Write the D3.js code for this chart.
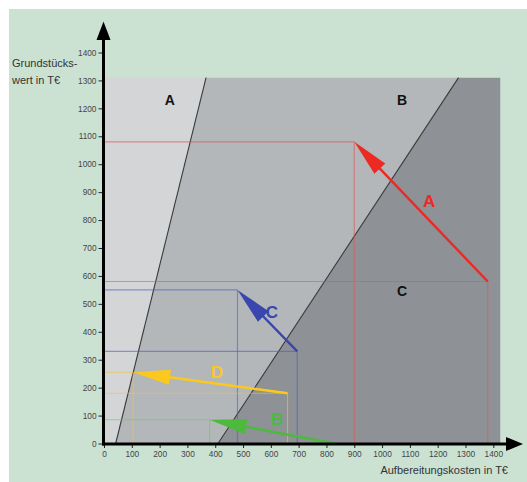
<!DOCTYPE html>
<html><head><meta charset="utf-8">
<script src="https://cdn.jsdelivr.net/npm/d3@7"></script>
<style>
html,body{margin:0;padding:0;background:#fff;}
svg{display:block;font-family:"Liberation Sans",Arial,sans-serif;}
</style></head>
<body>
<script>
// ---- data ----
const tickValues = [0,100,200,300,400,500,600,700,800,900,1000,1100,1200,1300,1400];
const yAxisTitle = ["Grundstücks-", "wert in T€"];
const xAxisTitle = "Aufbereitungskosten in T€";
const plotExtentX = 1425;
const plotExtentY = 1310;
// zone boundaries (x at y=0, x at top)
const boundaryBottomX = [42, 410];
const boundaryTopX = [367, 1275];
const zoneNames = ["A", "B", "C"];
const zoneLabelX = [237, 1072, 1072];
const zoneLabelY = [1230, 1230, 547];
const zoneColors = ["#d4d5d7", "#b4b7ba", "#8e9195"];
// moves (arrows)
const moveNames = ["A", "C", "D", "B"];
const moveFromX = [1380, 695, 660, 830];
const moveFromY = [580, 330, 180, 0];
const moveToX = [900, 480, 105, 380];
const moveToY = [1080, 550, 255, 85];
const moveLabelX = [1169, 604, 406, 622];
const moveLabelY = [866, 470, 254, 86];
const moveColors = ["#ec2a24", "#3846ad", "#fbc91e", "#4cba3c"];
const guideColors = ["#e05555", "#5060c0", "#f2c140", "#66cc66"];

// ---- chart ----
const W = 527, H = 482;
const svg = d3.select("body").append("svg").attr("width", W).attr("height", H);
svg.append("rect").attr("x", 9).attr("y", 9).attr("width", W - 9).attr("height", H - 9).attr("fill", "#cbe2d3");

const x = d3.scaleLinear().domain([0, 1400]).range([104, 493.3]);
const y = d3.scaleLinear().domain([0, 1400]).range([443.5, 52.5]);

// zones
const x0 = 0, x1 = plotExtentX, y0 = 0, y1 = plotExtentY;
const zonePolys = [
  [[x0,y0],[boundaryBottomX[0],y0],[boundaryTopX[0],y1],[x0,y1]],
  [[boundaryBottomX[0],y0],[boundaryBottomX[1],y0],[boundaryTopX[1],y1],[boundaryTopX[0],y1]],
  [[boundaryBottomX[1],y0],[x1,y0],[x1,y1],[boundaryTopX[1],y1]]
];
const line = d3.line().x(d => x(d[0])).y(d => y(d[1]));
svg.selectAll("path.zone").data(zonePolys).join("path").attr("class","zone")
  .attr("d", d => line(d) + "Z").attr("fill", (d,i) => zoneColors[i]);
boundaryBottomX.forEach((bx, i) => {
  svg.append("line").attr("x1", x(bx)).attr("y1", y(0)).attr("x2", x(boundaryTopX[i])).attr("y2", y(plotExtentY))
    .attr("stroke", "#3a3a3a").attr("stroke-width", 1.1);
});

// zone labels
svg.selectAll("text.zone").data(zoneNames).join("text").attr("class","zone")
  .attr("x", (d,i) => x(zoneLabelX[i])).attr("y", (d,i) => y(zoneLabelY[i]))
  .attr("text-anchor", "middle").attr("dominant-baseline", "central")
  .attr("font-size", 14).attr("font-weight", "bold").attr("fill", "#111").text(d => d);

// guides
moveNames.forEach((n, i) => {
  const g = svg.append("g").attr("stroke", guideColors[i]).attr("stroke-opacity", 0.6).attr("stroke-width", 1.2).attr("fill","none");
  [[moveFromX[i], moveFromY[i]], [moveToX[i], moveToY[i]]].forEach(p => {
    if (p[1] <= 0) return;
    g.append("line").attr("x1", x(0)).attr("y1", y(p[1])).attr("x2", x(p[0])).attr("y2", y(p[1]));
    g.append("line").attr("x1", x(p[0])).attr("y1", y(0)).attr("x2", x(p[0])).attr("y2", y(p[1]));
  });
});

// arrows
const headLen = 37, headHalf = 7.5;
moveNames.forEach((n, i) => {
  const sx = x(moveFromX[i]), sy = y(moveFromY[i]);
  const tx = x(moveToX[i]), ty = y(moveToY[i]);
  const dx = tx - sx, dy = ty - sy, L = Math.hypot(dx, dy);
  const ux = dx / L, uy = dy / L;
  const bx = tx - ux * headLen, by = ty - uy * headLen;
  svg.append("line").attr("x1", sx).attr("y1", sy).attr("x2", bx + ux*2).attr("y2", by + uy*2)
    .attr("stroke", moveColors[i]).attr("stroke-width", 2.4);
  svg.append("path").attr("d", `M${tx},${ty}L${bx - uy*headHalf},${by + ux*headHalf}L${bx + uy*headHalf},${by - ux*headHalf}Z`)
    .attr("fill", moveColors[i]);
  svg.append("text").attr("x", x(moveLabelX[i])).attr("y", y(moveLabelY[i]))
    .attr("text-anchor", "middle").attr("dominant-baseline", "central")
    .attr("font-size", 17).attr("font-weight", "bold").attr("fill", moveColors[i]).text(n);
});

// axes
const yAxis = d3.axisLeft(y).tickValues(tickValues).tickSize(5).tickPadding(2).tickFormat(d3.format("d"));
const xAxis = d3.axisBottom(x).tickValues(tickValues).tickSize(4).tickPadding(3).tickFormat(d3.format("d"));
const ya = svg.append("g").attr("transform", `translate(${x(0) - 0.5},0)`).call(yAxis);
const xa = svg.append("g").attr("transform", `translate(0,${y(0) + 0.5})`).call(xAxis);
[ya, xa].forEach(a => {
  a.select(".domain").remove();
  a.selectAll(".tick line").attr("stroke", "#222").attr("stroke-width", 1);
  a.selectAll(".tick text").attr("fill", "#444").attr("font-size", 8.3).attr("font-family", "Liberation Sans, Arial, sans-serif");
});
// axis lines with arrowheads
svg.append("line").attr("x1", x(0) - 0.5).attr("y1", y(0) + 2).attr("x2", x(0) - 0.5).attr("y2", 38)
  .attr("stroke", "#000").attr("stroke-width", 3);
svg.append("path").attr("d", `M${x(0)-0.5},21.5L${x(0)-7.5},40L${x(0)+6.5},40Z`).attr("fill", "#000");
svg.append("line").attr("x1", x(0) - 2).attr("y1", y(0) + 0.5).attr("x2", 508).attr("y2", y(0) + 0.5)
  .attr("stroke", "#000").attr("stroke-width", 3);
svg.append("path").attr("d", `M523,${y(0)+0.5}L506,${y(0)-6.5}L506,${y(0)+7.5}Z`).attr("fill", "#000");

// axis titles
svg.append("text").attr("x", 12).attr("y", 67).attr("font-size", 11).attr("fill", "#333")
  .selectAll("tspan").data(yAxisTitle).join("tspan").attr("x", 12).attr("dy", (d,i) => i ? 17 : 0).text(d => d);
svg.append("text").attr("x", 508).attr("y", 474).attr("text-anchor", "end").attr("font-size", 11).attr("fill", "#333").text(xAxisTitle);
</script>
</body></html>
